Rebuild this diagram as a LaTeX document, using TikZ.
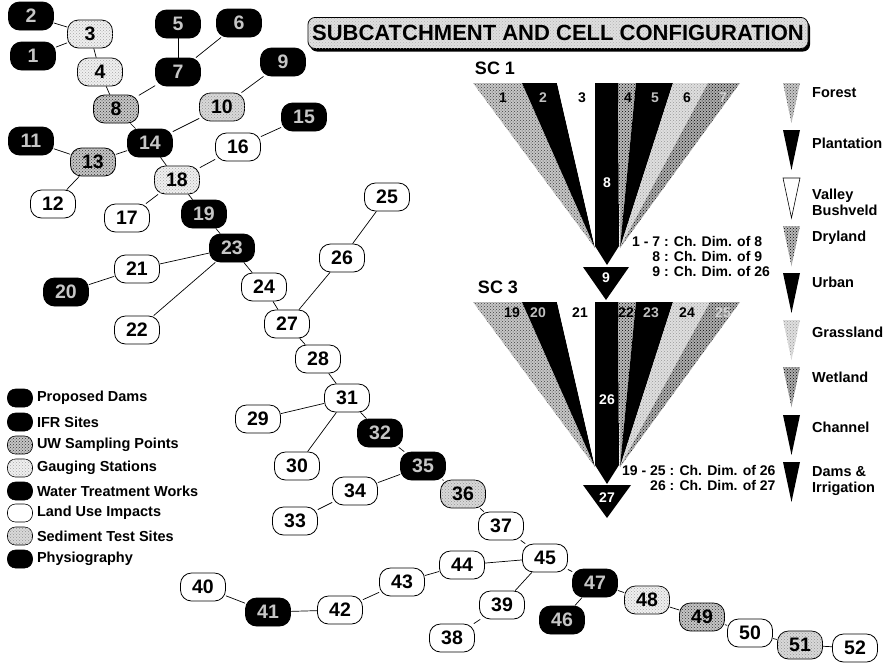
\documentclass[tikz,border=0pt]{standalone}
\usepackage{fontspec}
\setmainfont{Liberation Sans}
\usetikzlibrary{positioning,patterns,shadows}
\tikzset{cell/.style={draw,line width=0.8pt,rounded corners=11pt,fill=white,minimum width=45pt,minimum height=28pt,inner sep=0pt,font=\fontsize{19.5}{20}\selectfont\bfseries},
dark/.style={cell,fill=black,text=gray!45},
gauge/.style={cell,fill=gray!12,postaction={pattern=crosshatch dots,pattern color=gray!70}},
sedi/.style={cell,fill=gray!30,postaction={pattern=crosshatch dots,pattern color=gray!85}},
uws/.style={cell,fill=gray!45,postaction={pattern=crosshatch dots,pattern color=black!80}},
icon/.style={minimum width=25pt,minimum height=18pt,rounded corners=8pt,line width=0.6pt},
link/.style={line width=0.7pt},
key/.style={anchor=west,inner sep=0pt,align=left,font=\fontsize{14.5}{16}\selectfont\bfseries},
wforest/.style={fill=gray!45,postaction={pattern=crosshatch dots,pattern color=black!75}},
wdry/.style={fill=gray!55,postaction={pattern=crosshatch dots,pattern color=black}},
wgrass/.style={fill=gray!25,postaction={pattern=crosshatch dots,pattern color=gray!80}},
wwet/.style={fill=gray!65,postaction={pattern=crosshatch dots,pattern color=black}},
wlab/.style={inner sep=0pt,font=\fontsize{14}{14}\selectfont\bfseries},
sc/.style={inner sep=0pt,font=\fontsize{18}{18}\selectfont\bfseries},
note/.style={anchor=west,inner sep=0pt,font=\fontsize{14}{15}\selectfont\bfseries},
title/.style={draw,line width=0.8pt,rounded corners=7pt,fill=gray!25,minimum width=500pt,minimum height=31pt,inner sep=0pt,font=\fontsize{22}{23}\selectfont\bfseries,drop shadow={shadow xshift=2pt,shadow yshift=-3pt,fill=black,opacity=1},postaction={pattern=crosshatch dots,pattern color=gray!60}}}

\begin{document}
\begin{tikzpicture}[x=1pt,y=-1pt]
\useasboundingbox (0,0) rectangle (889,662);
% cells of the catchment
\node[dark] (n1) at (33,56) {1};
\node[dark] (n2) at (31,16) {2};
\node[gauge] (n3) at (90,34) {3};
\node[gauge] (n4) at (100,72) {4};
\node[dark] (n5) at (178,24) {5};
\node[dark] (n6) at (239,23) {6};
\node[dark] (n7) at (178,72) {7};
\node[uws] (n8) at (116,109) {8};
\node[dark] (n9) at (283,62) {9};
\node[sedi] (n10) at (222,107) {10};
\node[dark] (n11) at (31,141) {11};
\node[cell] (n12) at (53,204) {12};
\node[uws] (n13) at (93,162) {13};
\node[dark] (n14) at (150,143) {14};
\node[dark] (n15) at (304,117) {15};
\node[cell] (n16) at (238,147) {16};
\node[cell] (n17) at (127,218) {17};
\node[gauge] (n18) at (177,180) {18};
\node[dark] (n19) at (204,214) {19};
\node[dark] (n20) at (66,292) {20};
\node[cell] (n21) at (137,269) {21};
\node[cell] (n22) at (137,330) {22};
\node[dark] (n23) at (232,248) {23};
\node[cell] (n24) at (264,287) {24};
\node[cell] (n25) at (387,197) {25};
\node[cell] (n26) at (342,258) {26};
\node[cell] (n27) at (287,324) {27};
\node[cell] (n28) at (318,359) {28};
\node[cell] (n29) at (258,419) {29};
\node[cell] (n30) at (297,466) {30};
\node[cell] (n31) at (347,398) {31};
\node[dark] (n32) at (380,433) {32};
\node[cell] (n33) at (295,521) {33};
\node[cell] (n34) at (355,491) {34};
\node[dark] (n35) at (423,466) {35};
\node[sedi] (n36) at (463,494) {36};
\node[cell] (n37) at (501,526) {37};
\node[cell] (n38) at (452,638) {38};
\node[cell] (n39) at (502,605) {39};
\node[cell] (n40) at (203,587) {40};
\node[dark] (n41) at (268,612) {41};
\node[cell] (n42) at (340,610) {42};
\node[cell] (n43) at (402,582) {43};
\node[cell] (n44) at (462,565) {44};
\node[cell] (n45) at (545,558) {45};
\node[dark] (n46) at (562,620) {46};
\node[dark] (n47) at (595,583) {47};
\node[gauge] (n48) at (647,600) {48};
\node[uws] (n49) at (702,617) {49};
\node[cell] (n50) at (750,633) {50};
\node[sedi] (n51) at (800,645) {51};
\node[cell] (n52) at (855,648) {52};
\draw[link] (n2)--(n3);\draw[link] (n1)--(n3);\draw[link] (n3)--(n4);\draw[link] (n4)--(n8);
\draw[link] (n5)--(n7);\draw[link] (n6)--(n7);\draw[link] (n7)--(n8);\draw[link] (n8)--(n14);
\draw[link] (n9)--(n10);\draw[link] (n10)--(n14);\draw[link] (n11)--(n13);\draw[link] (n12)--(n13);
\draw[link] (n13)--(n14);\draw[link] (n14)--(n18);\draw[link] (n15)--(n16);\draw[link] (n16)--(n18);
\draw[link] (n17)--(n18);\draw[link] (n18)--(n19);\draw[link] (n19)--(n23);\draw[link] (n20)--(n21);
\draw[link] (n21)--(n23);\draw[link] (n22)--(n23);\draw[link] (n23)--(n24);\draw[link] (n24)--(n27);
\draw[link] (n25)--(n26);\draw[link] (n26)--(n27);\draw[link] (n27)--(n28);\draw[link] (n28)--(n31);
\draw[link] (n29)--(n31);\draw[link] (n30)--(n31);\draw[link] (n31)--(n32);\draw[link] (n32)--(n35);
\draw[link] (n33)--(n34);\draw[link] (n34)--(n35);\draw[link] (n35)--(n36);\draw[link] (n36)--(n37);
\draw[link] (n37)--(n45);\draw[link] (n44)--(n45);\draw[link] (n43)--(n44);\draw[link] (n42)--(n43);
\draw[link] (n41)--(n42);\draw[link] (n40)--(n41);\draw[link] (n39)--(n45);\draw[link] (n38)--(n39);
\draw[link] (n45)--(n47);\draw[link] (n46)--(n47);\draw[link] (n47)--(n48);\draw[link] (n48)--(n49);
\draw[link] (n49)--(n50);\draw[link] (n50)--(n51);\draw[link] (n51)--(n52);
% legend of sites
\node[dark,icon] (kdams) at (20,398) {};
\node[key,right=4pt of kdams] (tdams) {Proposed Dams};
\node[dark,icon] (kifr) at (20,422) {};
\node[key,right=4pt of kifr] (tifr) {IFR Sites};
\node[uws,icon] (kuws) at (20,445) {};
\node[key,right=4pt of kuws] (tuws) {UW Sampling Points};
\node[gauge,icon] (kgauge) at (20,468) {};
\node[key,right=4pt of kgauge] (tgauge) {Gauging Stations};
\node[dark,icon] (kwtw) at (20,491) {};
\node[key,right=4pt of kwtw] (twtw) {Water Treatment Works};
\node[cell,icon] (kland) at (20,513) {};
\node[key,right=4pt of kland] (tland) {Land Use Impacts};
\node[sedi,icon] (ksedi) at (20,536) {};
\node[key,right=4pt of ksedi] (tsedi) {Sediment Test Sites};
\node[dark,icon] (kphys) at (20,559) {};
\node[key,right=4pt of kphys] (tphys) {Physiography};
% title
\node[title] (title) at (558,33) {SUBCATCHMENT AND CELL CONFIGURATION};
% SC 1 fan
\node[sc] (sc1) at (495,68) {SC 1};
\path[wforest] (473,83)--(522,83)--(595,248)--cycle;
\fill[black] (522,83)--(557,83)--(595,248)--cycle;
\fill[white] (557,83)--(595,83)--(595,248)--cycle;
\path[wdry] (618,83)--(636,83)--(620,248)--cycle;
\fill[black] (636,83)--(673,83)--(620,248)--cycle;
\path[wgrass] (673,83)--(708,83)--(620,248)--cycle;
\path[wwet] (708,83)--(740,83)--(620,248)--cycle;
\fill[black] (595,83)--(618,83)--(619,246)--(607,265)--(595,246)--cycle;
\fill[black] (583,267)--(629,267)--(606,300)--cycle;
\node[wlab] (w1) at (503,98) {1};
\node[wlab,text=gray!50] (w2) at (543,98) {2};
\node[wlab] (w3) at (582,98) {3};
\node[wlab] (w4) at (628,98) {4};
\node[wlab,text=gray!50] (w5) at (655,98) {5};
\node[wlab] (w6) at (687,98) {6};
\node[wlab,text=gray!35] (w7) at (723,98) {7};
\node[wlab,text=white] (w8) at (607,183) {8};
\node[wlab,text=white] (w9) at (606,278) {9};
\node[note] (dim1) at (632,258) {\begin{tabular}{@{}r@{ : }l@{}}1 - 7&Ch. Dim. of 8\\8&Ch. Dim. of 9\\9&Ch. Dim. of 26\end{tabular}};
% SC 3 fan
\node[sc] (sc3) at (498,287) {SC 3};
\path[wforest] (473,302)--(522,302)--(595,467)--cycle;
\fill[black] (522,302)--(557,302)--(595,467)--cycle;
\fill[white] (557,302)--(595,302)--(595,467)--cycle;
\path[wdry] (618,302)--(636,302)--(620,467)--cycle;
\fill[black] (636,302)--(673,302)--(620,467)--cycle;
\path[wgrass] (673,302)--(710,302)--(620,467)--cycle;
\path[wwet] (710,302)--(740,302)--(620,467)--cycle;
\fill[black] (595,302)--(618,302)--(619,465)--(607,484)--(595,465)--cycle;
\fill[black] (583,485)--(631,485)--(607,518)--cycle;
\node[wlab] (w19) at (512,313) {19};
\node[wlab,text=gray!50] (w20) at (538,313) {20};
\node[wlab] (w21) at (580,313) {21};
\node[wlab] (w22) at (626,313) {22};
\node[wlab,text=gray!50] (w23) at (651,313) {23};
\node[wlab] (w24) at (687,313) {24};
\node[wlab,text=gray!35] (w25) at (723,313) {25};
\node[wlab,text=white] (w26) at (607,400) {26};
\node[wlab,text=white] (w27) at (607,498) {27};
\node[note] (dim3) at (622,480) {\begin{tabular}{@{}r@{ : }l@{}}19 - 25&Ch. Dim. of 26\\26&Ch. Dim. of 27\end{tabular}};
% legend of land uses
\path[wforest] (783,83)--(800,83)--(791.5,123)--cycle;
\node[key] (lforest) at (812,93) {Forest};
\fill[black] (783,130)--(800,130)--(791.5,170)--cycle;
\node[key] (lplant) at (812,143) {Plantation};
\draw[line width=0.6pt,fill=white] (783,178)--(800,178)--(791.5,218)--cycle;
\node[key] (lvalley) at (812,202) {Valley\\Bushveld};
\path[wdry] (783,226)--(800,226)--(791.5,266)--cycle;
\node[key] (ldry) at (812,238) {Dryland};
\fill[black] (783,273)--(800,273)--(791.5,313)--cycle;
\node[key] (lurban) at (812,282) {Urban};
\path[wgrass] (783,320)--(800,320)--(791.5,360)--cycle;
\node[key] (lgrass) at (812,332) {Grassland};
\path[wwet] (783,367)--(800,367)--(791.5,407)--cycle;
\node[key] (lwet) at (812,377) {Wetland};
\fill[black] (783,415)--(800,415)--(791.5,455)--cycle;
\node[key] (lchan) at (812,427) {Channel};
\fill[black] (783,462)--(800,462)--(791.5,502)--cycle;
\node[key] (ldams) at (812,481) {Dams \&\\Irrigation};
\end{tikzpicture}
\end{document}
